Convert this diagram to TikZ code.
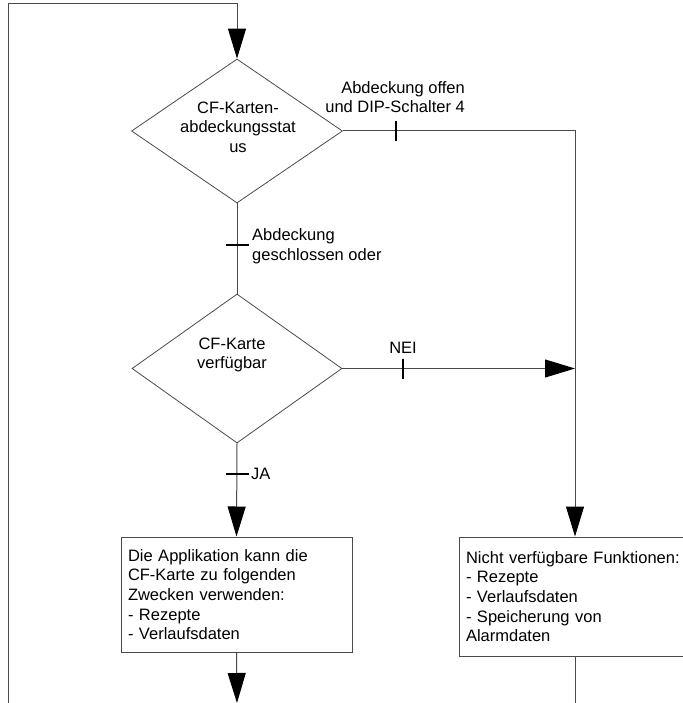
\documentclass[tikz,border=0pt]{standalone}
\usepackage{fontspec}
\setmainfont{Liberation Sans}
\usetikzlibrary{arrows.meta,shapes.geometric}
\definecolor{linegray}{HTML}{4A4A4A}
\begin{document}
\begin{tikzpicture}[x=1pt,y=-1pt,
  every node/.style={font=\fontsize{16.5}{19.6}\selectfont, inner sep=0pt},
  flow/.style={draw=linegray, line width=1pt},
  arrowflow/.style={flow, -{Triangle[length=30pt,width=18pt,fill=black,color=black]}},
  decision/.style={diamond, draw=linegray, line width=0.8pt, inner sep=0pt},
  dtext/.style={align=center},
  infobox/.style={rectangle, draw=linegray, line width=1pt, align=left,
    inner xsep=7pt, text width=217pt},
  condlabel/.style={align=left},
  tickmark/.style={line width=2.8pt, black},
]
\useasboundingbox (0,0) rectangle (682,703);

% decisions
\node[decision, minimum width=211pt, minimum height=144pt] (d1) at (237,131) {};
\node[dtext] (d1t) at (238,127) {CF-Karten-\\abdeckungsstat\\us};
\node[decision, minimum width=210pt, minimum height=149pt] (d2) at (237,368.5) {};
\node[dtext] (d2t) at (232,355) {CF-Karte\\verfügbar};

% result boxes
\node[infobox, minimum height=115pt] (box1) at (236.5,594.5)
  {Die Applikation kann die\\CF-Karte zu folgenden\\Zwecken verwenden:\\- Rezepte\\- Verlaufsdaten};
\node[infobox, text width=230pt, minimum height=119pt] (box2) at (581,596.5)
  {Nicht verfügbare Funktionen:\\- Rezepte\\- Verlaufsdaten\\- Speicherung von\\Alarmdaten};

% free ends and corners
\coordinate (loopbot) at (8,703);
\coordinate (looptop) at (8,4);
\coordinate (rc) at (575,131);
\coordinate (outL) at (237,703);
\coordinate (outR) at (575,703);

% connectors
\draw[arrowflow] (loopbot) -- (looptop) -- (d1.north |- looptop) -- (d1.north);
\draw[arrowflow] (d1.east) -- (rc) -- (box2.north -| rc);
\draw[flow] (d1.south) -- (d2.north);
\draw[arrowflow] (d2.east) -- (d2.east -| rc);
\draw[arrowflow] (d2.south) -- (box1.north);
\draw[arrowflow] (box1.south) -- (outL);
\draw[flow] (box2.south -| rc) -- (outR);

% transition marks
\draw[tickmark] (396,121) -- (396,141);
\draw[tickmark] (225.5,245) -- (248.5,245);
\draw[tickmark] (403,358.5) -- (403,378.5);
\draw[tickmark] (225.5,474) -- (248.5,474);

% condition labels
\node[align=right, anchor=east] (lopen) at (465,97) {Abdeckung offen\\und DIP-Schalter 4};
\node[condlabel, anchor=west] (lclosed) at (252,246) {Abdeckung\\geschlossen oder};
\node (lnei) at (403,348) {NEI};
\node[anchor=west] (lja) at (251,474) {JA};
\end{tikzpicture}
\end{document}
